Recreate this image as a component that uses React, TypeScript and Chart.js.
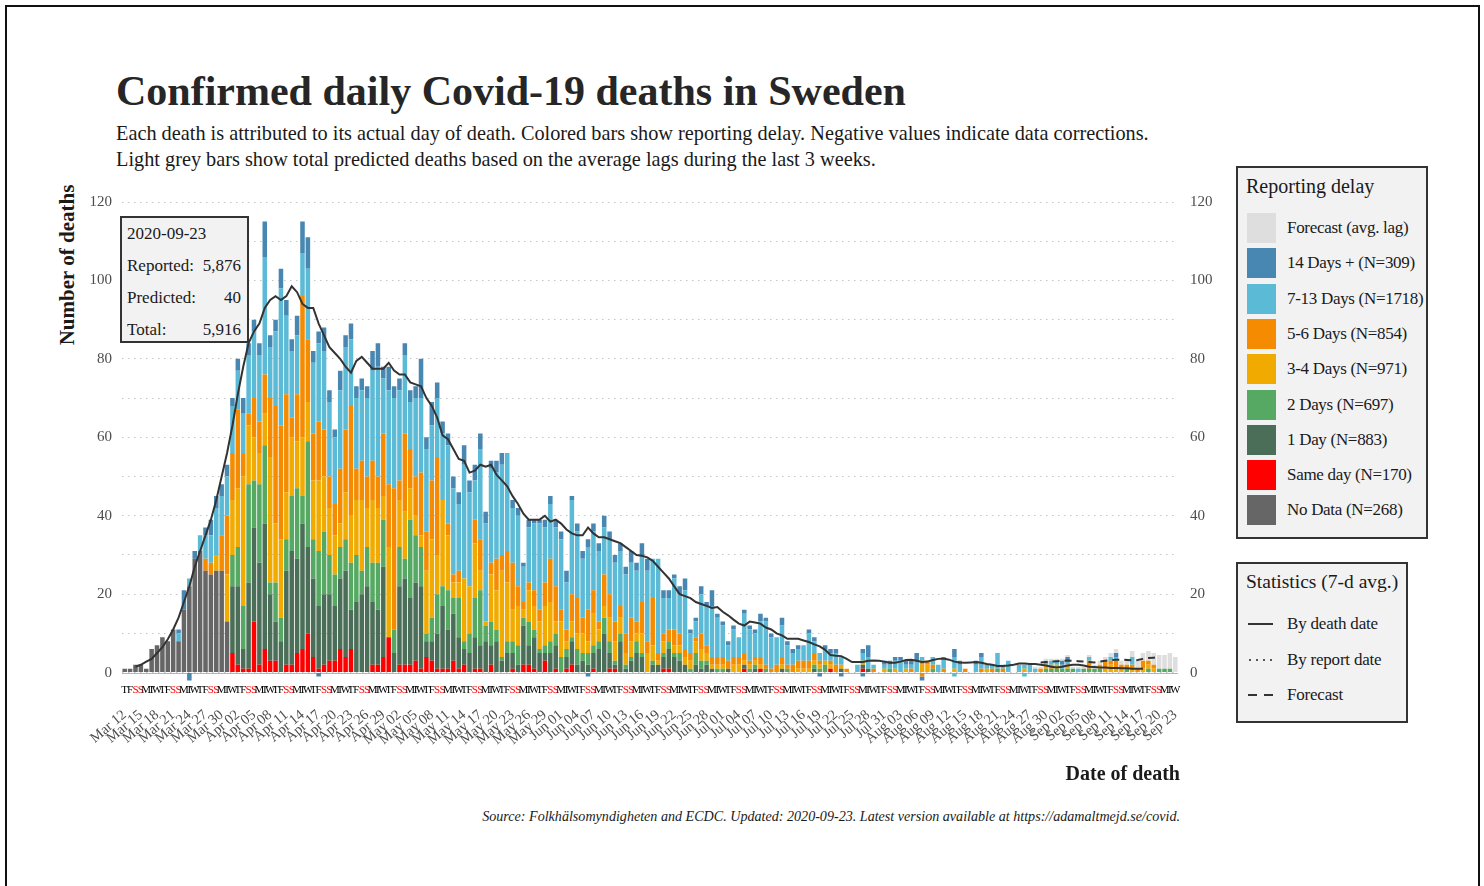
import React, { useEffect, useRef } from 'react';
import { Chart, registerables } from 'chart.js';

Chart.register(...registerables);

const FONT = "'Liberation Serif', 'DejaVu Serif', serif";

// Days from 2020-03-12 to 2020-09-23
const START_YEAR = 2020;
const START_MONTH = 2;
const START_DAY = 12;
const DAY_COUNT = 196;
const MONTH_ABBR = ['Jan', 'Feb', 'Mar', 'Apr', 'May', 'Jun', 'Jul', 'Aug', 'Sep', 'Oct', 'Nov', 'Dec'];
const WEEKDAY_LETTERS = ['S', 'M', 'T', 'W', 'T', 'F', 'S'];
const Y_TICKS = [0, 10, 20, 30, 40, 50, 60, 70, 80, 90, 100, 110, 120];

// Reporting-delay series (deaths per day of death)
const noData = [1, 1, 2, 2, 1, 6, 7, 9, 8, 11, 8, 16, 22, 29, 31, 26, 25, 26, 26, 13];

const sameDay = [
  0, 0, 0, 0, 0, 0, 0, 0, 0, 0,
  0, 0, 0, 0, 0, 0, 0, 0, 0, 0,
  5, 2, 1, 1, 13, 2, 6, 3, 3, 0,
  2, 2, 5, 6, 10, 4, 1, 2, 3, 3,
  6, 4, 6, 0, 0, 0, 2, 2, 4, 9,
  0, 2, 2, 2, 3, 1, 4, 3, 1, 1,
  1, 3, 1, 2, 0, 1, 1, 0, 2, 0,
  0, 0, 1, 0, 2, 2, 1, 0, 3, 0,
  1, 0, 1, 2, 0, 0, 0, 1, 0, 0,
  1, 1, 0, 0, 0, 0, 0, 0, 0, 0,
  1, 1, 0, 0, 0, 0, 0, 0, 0, 0,
  0, 0, 0, 0, 0, 1, 0, 0, 1, 0,
  0, 0, 0, 0, 0, 0, 0, 0, 0, 0,
  0, 1, 0, 0, 0, 0, 0, 1, 0, 0,
];

const oneDay = [
  0, 0, 0, 0, 0, 0, 0, 0, 0, 0,
  0, 0, 0, 0, 0, 0, 0, 0, 0, 0,
  17, 20, 5, 22, 24, 26, 32, 17, 10, 8,
  24, 29, 24, 32, 22, 20, 16, 18, 17, 14,
  18, 22, 10, 18, 20, 22, 16, 14, 23, 0,
  5, 20, 22, 17, 20, 21, 4, 5, 9, 16,
  10, 12, 8, 4, 5, 8, 6, 8, 5, 8,
  3, 5, 4, 2, 10, 5, 8, 5, 2, 5,
  6, 0, 3, 6, 2, 3, 2, 4, 6, 10,
  4, 1, 8, 1, 3, 5, 4, 0, 2, 2,
  3, 5, 4, 3, 2, 0, 2, 1, 2, 1,
  0, 0, 1, 0, 0, 1, 0, 1, 0, 0,
  0, 0, 1, 0, 0, 0, 0, 0, 1, 0,
  0, 0, 0, 1, 0, 0, 0, 1, 1, 0,
];

const twoDays = [
  0, 0, 0, 0, 0, 0, 0, 0, 0, 0,
  0, 0, 0, 0, 0, 0, 0, 0, 0, 0,
  8, 10, 11, 25, 12, 20, 20, 3, 10, 6,
  8, 14, 18, 7, 27, 10, 14, 16, 10, 8,
  8, 8, 12, 12, 6, 10, 10, 12, 12, 0,
  6, 10, 5, 20, 12, 10, 2, 6, 10, 5,
  10, 4, 10, 2, 5, 10, 14, 4, 6, 3,
  1, 3, 3, 5, 2, 6, 2, 1, 2, 3,
  3, 4, 2, 1, 4, 2, 3, 2, 2, 4,
  3, 1, 2, 1, 1, 3, 1, 0, 1, 0,
  1, 2, 1, 2, 0, 1, 3, 2, 1, 0,
  1, 1, 0, 0, 0, 0, 1, 1, 0, 1,
  0, 0, 0, 1, 0, 0, 0, 0, 1, 1,
  2, 0, 0, 0, 0, 0, 0, 0, 0, 0,
  0, 0, 1, 0, 0, 0, 0, 0, 0, 0,
  1, 0, 0, 0, 0, 0, 0, 0, 0, 0,
  0, 0, 1, 0, 0, 0, 0, 0, 0, 0,
  0, 1, 1, 1, 1, 1, 1, 0, 1, 1,
  1, 1, 0, 0, 0, 0, 1, 0, 0, 0,
  1, 0, 1, 1, 1, 0,
];

const threeFourDays = [
  0, 0, 0, 0, 0, 0, 0, 0, 0, 0,
  0, 0, 0, 0, 0, 0, 0, 4, 0, 12,
  14, 15, 33, 15, 11, 8, 8, 32, 15, 20,
  12, 15, 12, 15, 10, 15, 18, 14, 12, 10,
  6, 12, 12, 14, 18, 10, 16, 14, 6, 23,
  0, 12, 12, 8, 5, 3, 16, 20, 10, 22,
  14, 4, 4, 16, 12, 14, 5, 1, 12, 10,
  22, 15, 8, 10, 2, 8, 6, 7, 10, 10,
  3, 9, 2, 4, 4, 5, 3, 8, 3, 3,
  6, 5, 4, 3, 4, 2, 5, 5, 4, 1,
  3, 0, 2, 2, 2, 2, 3, 3, 2, 1,
  1, 1, 0, 2, 2, 1, 1, 1, 1, 0,
  0, 0, 1, 0, 0, 1, 1, 1, 1, 1,
  1, 1, 0, 1, 0, 0, 0, 1, 0, 0,
  0, 1, 0, 1, 0, 1, 0, 0, 2, 2,
  0, 0, 0, 0, 1, 0, 0, 0, 0, 0,
  1, 0, 0, 0, 0, 0, 0, 1, 0, 0,
  0, 1, 0, 1, 0, 1, 0, 0, 0, 0,
  0, 1, 1, 2, 1, 1, 0, 1, 0, 1,
  1, 1, 0, 0, 0, 0,
];

const fiveSixDays = [
  0, 0, 0, 0, 0, 0, 0, 0, 0, 0,
  0, 0, 0, 0, 0, 3, 3, 0, 9, 15,
  12, 20, 6, 3, 10, 8, 10, 15, 30, 29,
  25, 5, 12, 36, 16, 12, 15, 12, 8, 8,
  14, 16, 28, 8, 10, 8, 10, 8, 16, 16,
  36, 5, 20, 10, 10, 16, 10, 15, 25, 0,
  3, 2, 3, 0, 0, 6, 8, 0, 3, 8,
  4, 8, 12, 5, 2, 2, 4, 3, 6, 11,
  9, 3, 3, 7, 9, 4, 8, 6, 2, 8,
  6, 5, 3, 5, 6, 3, 8, 3, 12, 2,
  2, 3, 4, 3, 2, 2, 1, 4, 2, 2,
  2, 2, 2, 2, 2, 2, 1, 1, 2, 1,
  1, 2, 2, 1, 2, 2, 2, 2, 2, 1,
  0, 1, 2, 0, 1, 0, 0, 0, 0, 1,
  0, 0, 0, 0, 0, 0, 1, 0, 1, 1,
  1, 0, 1, 0, 0, 0, 1, 0, 0, 1,
  0, 1, 0, 1, 0, 0, 0, 0, 0, 0,
  1, 0, 1, 0, 0, 0, 0, 0, 0, 2,
  0, 0, 2, 1, 2, 1, 1, 1, 1, 2,
  1, 1, 0, 0, 0, 0,
];

const sevenThirteenDays = [
  0, 0, 0, 0, 0, 0, 0, 0, 0, 0,
  2, 0, 2, 0, 4, 6, 7, 12, 10, 10,
  12, 10, 10, 15, 17, 17, 30, 13, 19, 35,
  20, 17, 15, 11, 18, 18, 20, 20, 19, 17,
  20, 21, 17, 18, 18, 20, 23, 28, 14, 24,
  23, 23, 20, 12, 20, 19, 21, 14, 15, 17,
  20, 22, 17, 29, 24, 10, 23, 25, 24, 22,
  23, 25, 14, 18, 9, 14, 17, 22, 14, 14,
  15, 18, 12, 24, 17, 15, 16, 15, 18, 12,
  14, 15, 14, 15, 14, 13, 12, 18, 10, 24,
  9, 8, 13, 10, 15, 5, 4, 10, 10, 13,
  10, 8, 4, 7, 5, 10, 8, 6, 9, 11,
  8, 7, 8, 5, 3, 3, 4, 7, 3, 2,
  3, 2, 3, 2, 0, 0, 2, 2, 3, 1,
  0, 1, 1, 2, 3, 1, 1, 3, 1, 0,
  2, 2, 3, 0, 3, 2, 0, 0, 2, 3,
  1, 1, 4, 1, 3, 0, 2, 1, 2, 1,
  0, 1, 1, 1, 1, 1, 0, 1, 0, 1,
  0, 0, 0, 1, 1, 0, 0, 2, 0, 0,
  0, 0, 0, 0, 0, 0,
];

const fourteenPlusDays = [
  0, 0, 0, 0, 0, 0, 0, 0, 0, 0,
  1, 5, 0, 2, 0, 2, 4, 3, 3, 3,
  2, 3, 4, 3, 3, 3, 9, 3, 3, 5,
  4, 3, 5, 8, 8, 3, 3, 6, 3, 2,
  5, 3, 4, 3, 3, 3, 5, 6, 3, 6,
  3, 3, 3, 3, 3, 10, 3, 6, 4, 3,
  3, 3, 3, 5, 3, 4, 4, 3, 2, 3,
  3, 0, 2, 2, 1, 2, 1, 1, 2, 2,
  2, 2, 3, 1, 2, 2, 2, 2, 2, 3,
  2, 2, 2, 2, 3, 2, 3, 3, 0, 0,
  2, 2, 1, 2, 3, 1, 1, 2, 1, 4,
  1, 1, 1, 1, 0, 1, 1, 1, 2, 1,
  1, 0, 2, 1, 1, 1, 0, 1, 1, 0,
  1, 1, 1, 0, 0, 0, 0, 1, 3, 0,
  0, 1, 1, 1, 1, 1, 1, 2, 0, 0,
  0, 0, 0, 0, 2, 1, 0, 0, 1, 1,
  0, 0, 0, 0, 0, 0, 0, 0, 0, 0,
  0, 0, 0, 0, 1, 1, 0, 0, 0, 0,
  0, 0, 0, 0, 1,
];

// Forecast (avg. lag), starting at day index 169 (Aug 28)
const FORECAST_START = 169;
const forecastBars = [0.5, 0.5, 0.5, 0.5, 0.5, 0.5, 0.5, 0.5, 0.5, 0.5, 0.5, 1, 1, 1, 1, 1, 1, 1.5, 1.5, 2, 2, 2.5, 3, 3.5, 3.5, 4, 4];

// Negative data corrections
const correctionDays14 = [12, 36, 86, 129, 133, 137, 148];
const corrections14 = [-2, -1, -1, -1, -1, -1, -1];
const correctionDays713 = [154, 167];
const corrections713 = [-1, -1];
const correctionDays56 = [148];
const corrections56 = [-1];

// 7-day average by death date
const deathDateAvg = [
  null, null, 1.5, 2, 2.8, 3.5, 5, 6.5, 8.5, 11,
  14, 18, 22, 27, 31, 35, 39, 44, 50, 56,
  63, 71, 78, 84, 87, 89, 93, 95, 96, 95,
  96, 98.5, 97, 94, 93, 93, 89, 86, 83, 81.5,
  80, 78, 76.5, 79.5, 80.5, 79, 77.5, 77.5, 77.5, 79,
  77, 76, 76, 74, 73.5, 73, 70, 68, 65, 60.5,
  59.5, 57, 54.5, 54, 51, 51.5, 53, 52.5, 53, 50.5,
  49, 47.5, 45, 43, 40.5, 39, 39, 39, 40, 38.5,
  39, 38, 36.5, 35.5, 35, 35, 37, 35.5, 34.5, 34.5,
  34, 33.5, 33, 32, 31, 30, 29.8, 29.4, 28.5, 27,
  25.5, 24, 22, 20, 19.5, 19, 18, 17.5, 17, 16.5,
  16.7, 15.5, 14.6, 13.5, 12.5, 12, 13, 12.8, 12.5, 11.5,
  11, 10, 9.5, 8.6, 8.6, 8.6, 8.2, 7.8, 7.2, 6.7,
  5.8, 4.5, 4.3, 4.2, 3.5, 2.7, 2.7, 2.7, 3, 3.1,
  3, 2.8, 2.5, 2.5, 2.8, 3.2, 3.3, 3, 2.7, 2.8,
  3.2, 3.5, 3.6, 3.3, 2.8, 2.6, 2.5, 2.6, 2.7, 2.5,
  2.2, 2, 1.7, 1.7, 1.8, 2, 2.3, 2.3, 2.2, 2.2,
  2, 1.8, 1.5, 1.3, 1.5, 1.8, 2, 2, 1.8, 1.5,
  1.4, 1.3, 1.3, 1.2, 1.2, 1.1, 1.1, 1, 1, 1,
];

// 7-day average forecast, starting at day index 170
const FORECAST_LINE_START = 170;
const forecastAvg = [2.6, 2.7, 2.8, 2.9, 3, 3.1, 3, 2.9, 2.8, 2.7, 2.6, 2.8, 3, 3.2, 3.3, 3.3, 3.2, 3.1, 3.2, 3.5, 3.7, 3.8, 3.9];

const COLORS = {
  forecast: '#dedede',
  d14: '#4787b1',
  d713: '#5bbad6',
  d56: '#f48b00',
  d34: '#f1ab00',
  d2: '#56a962',
  d1: '#4b6e58',
  same: '#ff0000',
  noData: '#666666',
};

const LEGEND_LABELS = [
  'Forecast (avg. lag)',
  '14 Days + (N=309)',
  '7-13 Days (N=1718)',
  '5-6 Days (N=854)',
  '3-4 Days (N=971)',
  '2 Days (N=697)',
  '1 Day (N=883)',
  'Same day (N=170)',
  'No Data (N=268)',
];
const LEGEND_COLORS = [COLORS.forecast, COLORS.d14, COLORS.d713, COLORS.d56, COLORS.d34, COLORS.d2, COLORS.d1, COLORS.same, COLORS.noData];

const STAT_LABELS = ['By death date', 'By report date', 'Forecast'];

function buildDays() {
  const labels: string[] = [];
  const letters: string[] = [];
  const weekend: boolean[] = [];
  for (let i = 0; i < DAY_COUNT; i++) {
    const d = new Date(START_YEAR, START_MONTH, START_DAY + i);
    const dd = String(d.getDate()).padStart(2, '0');
    labels.push(`${MONTH_ABBR[d.getMonth()]} ${dd}`);
    letters.push(WEEKDAY_LETTERS[d.getDay()]);
    weekend.push(d.getDay() === 0 || d.getDay() === 6);
  }
  return { labels, letters, weekend };
}

function padFrom(start: number, vals: number[]) {
  const out: (number | null)[] = [];
  for (let i = 0; i < start; i++) out.push(null);
  return out.concat(vals);
}

function sparse(days: number[], vals: number[]) {
  const out: (number | null)[] = [];
  for (let i = 0; i < DAY_COUNT; i++) out.push(null);
  days.forEach((d, k) => { out[d] = vals[k]; });
  return out;
}

function LineGlyph({ kind, top }: { kind: number; top: number }) {
  if (kind === 0) {
    return <div style={{ position: 'absolute', left: 1248, top, width: 25, height: 2, background: '#333' }} />;
  }
  if (kind === 1) {
    return (
      <>
        {[0, 1, 2, 3].map((j) => (
          <div key={j} style={{ position: 'absolute', left: 1249 + j * 7, top, width: 2, height: 2, background: '#555' }} />
        ))}
      </>
    );
  }
  return (
    <>
      <div style={{ position: 'absolute', left: 1248, top, width: 9, height: 2, background: '#333' }} />
      <div style={{ position: 'absolute', left: 1264, top, width: 9, height: 2, background: '#333' }} />
    </>
  );
}

export default function App() {
  const canvasRef = useRef<HTMLCanvasElement | null>(null);

  useEffect(() => {
    const canvas = canvasRef.current;
    if (!canvas) return;
    Chart.defaults.font.family = FONT;
    const { labels, letters, weekend } = buildDays();

    const bar = (label: string, data: any[], color: string) => ({
      type: 'bar' as const,
      label,
      data,
      backgroundColor: color,
      borderWidth: 0,
      barPercentage: 0.84,
      categoryPercentage: 1,
      order: 2,
      xAxisID: 'x',
      yAxisID: 'y',
    });

    const datasets: any[] = [
      bar('No Data', noData, COLORS.noData),
      bar('Same day', sameDay, COLORS.same),
      bar('1 Day', oneDay, COLORS.d1),
      bar('2 Days', twoDays, COLORS.d2),
      bar('3-4 Days', threeFourDays, COLORS.d34),
      bar('5-6 Days', fiveSixDays, COLORS.d56),
      bar('7-13 Days', sevenThirteenDays, COLORS.d713),
      bar('14 Days +', fourteenPlusDays, COLORS.d14),
      bar('Forecast', padFrom(FORECAST_START, forecastBars), COLORS.forecast),
      bar('corr 5-6', sparse(correctionDays56, corrections56), COLORS.d56),
      bar('corr 7-13', sparse(correctionDays713, corrections713), COLORS.d713),
      bar('corr 14+', sparse(correctionDays14, corrections14), COLORS.d14),
      {
        type: 'line',
        label: 'By death date',
        data: deathDateAvg,
        borderColor: '#333333',
        borderWidth: 2,
        pointRadius: 0,
        tension: 0,
        stack: 'avg',
        order: 0,
        xAxisID: 'x',
        yAxisID: 'y',
      },
      {
        type: 'line',
        label: 'Forecast avg',
        data: padFrom(FORECAST_LINE_START, forecastAvg),
        borderColor: '#333333',
        borderWidth: 2,
        borderDash: [7, 5],
        pointRadius: 0,
        tension: 0,
        stack: 'fc',
        order: 0,
        xAxisID: 'x',
        yAxisID: 'y',
      },
    ];

    const baseline = {
      id: 'baseline',
      beforeDatasetsDraw(chart: any) {
        const { ctx, chartArea, scales } = chart;
        const y = Math.round(scales.y.getPixelForValue(0)) + 0.5;
        ctx.save();
        ctx.strokeStyle = '#b5b5b5';
        ctx.lineWidth = 1;
        ctx.beginPath();
        ctx.moveTo(chartArea.left, y);
        ctx.lineTo(chartArea.right, y);
        ctx.stroke();
        ctx.restore();
      },
    };

    const yTicks = (s: any) => { s.ticks = Y_TICKS.map((v) => ({ value: v })); };

    const chart = new Chart(canvas, {
      type: 'bar',
      data: { labels, datasets },
      plugins: [baseline],
      options: {
        responsive: false,
        animation: false,
        devicePixelRatio: 1,
        events: [],
        layout: { padding: { top: 11, left: 0, right: 0, bottom: 0 } },
        plugins: { legend: { display: false }, tooltip: { enabled: false }, title: { display: false } },
        scales: {
          x: {
            type: 'category',
            position: 'bottom',
            stacked: true,
            offset: true,
            weight: 0,
            grid: { display: false, drawTicks: false },
            border: { display: false },
            ticks: {
              autoSkip: false,
              maxRotation: 0,
              minRotation: 0,
              padding: 1,
              font: { size: 11, family: FONT },
              color: (c: any) => (weekend[c.index] ? '#ff0000' : '#000000'),
              callback: (_v: any, i: number) => letters[i],
            },
            afterFit: (s: any) => { s.height = 20; },
          },
          x2: {
            type: 'category',
            position: 'bottom',
            offset: true,
            weight: 1,
            grid: { display: false, drawTicks: false },
            border: { display: false },
            ticks: {
              autoSkip: false,
              maxRotation: 40,
              minRotation: 40,
              padding: 4,
              font: { size: 14.5, family: FONT },
              color: '#4d4d4d',
              callback: (_v: any, i: number) => (i % 3 === 0 ? labels[i] : ''),
            },
            afterFit: (s: any) => { s.height = 87.6; },
          },
          y: {
            type: 'linear',
            position: 'left',
            stacked: true,
            min: -2.5,
            max: 120,
            afterBuildTicks: yTicks,
            afterFit: (s: any) => { s.width = 62; },
            grid: { color: '#c4c4c4', lineWidth: 1, drawTicks: false },
            border: { display: false, dash: [1.5, 4.5] },
            ticks: {
              padding: 10,
              font: { size: 15, family: FONT },
              color: '#4d4d4d',
              callback: (v: any) => (Number(v) % 20 === 0 ? String(v) : ''),
            },
          },
          y2: {
            type: 'linear',
            position: 'right',
            min: -2.5,
            max: 120,
            afterBuildTicks: yTicks,
            afterFit: (s: any) => { s.width = 52; },
            grid: { display: false, drawTicks: false },
            border: { display: false },
            ticks: {
              padding: 12,
              font: { size: 15, family: FONT },
              color: '#4d4d4d',
              callback: (v: any) => (Number(v) % 20 === 0 ? String(v) : ''),
            },
          },
        },
      } as any,
    } as any);

    return () => chart.destroy();
  }, []);

  const legendRowTop = (k: number) => 213 + k * 35.3;
  const statRowTop = (k: number) => 611 + k * 35.5;

  return (
    <div style={{ position: 'fixed', left: 0, top: 0, width: 1484, height: 886, background: '#ffffff', overflow: 'hidden', fontFamily: FONT, color: '#1a1a1a' }}>
      <div style={{ position: 'absolute', left: 5, top: 5, width: 1471, height: 900, border: '2px solid #111' }} />

      <div style={{ position: 'absolute', left: 116, top: 70, fontSize: 42, lineHeight: '43px', fontWeight: 700, whiteSpace: 'nowrap', color: '#262626' }}>
        Confirmed daily Covid-19 deaths in Sweden
      </div>
      <div style={{ position: 'absolute', left: 116, top: 123, fontSize: 20.3, lineHeight: '21px', whiteSpace: 'nowrap', color: '#1a1a1a' }}>
        Each death is attributed to its actual day of death. Colored bars show reporting delay. Negative values indicate data corrections.
      </div>
      <div style={{ position: 'absolute', left: 116, top: 149, fontSize: 20.3, lineHeight: '21px', whiteSpace: 'nowrap', color: '#1a1a1a' }}>
        Light grey bars show total predicted deaths based on the average lags during the last 3 weeks.
      </div>

      <div style={{ position: 'absolute', left: 67, top: 265, transform: 'translate(-50%, -50%) rotate(-90deg)', fontSize: 21, fontWeight: 700, whiteSpace: 'nowrap', color: '#1a1a1a' }}>
        Number of deaths
      </div>

      <canvas ref={canvasRef} width={1170} height={609} style={{ position: 'absolute', left: 60, top: 181, width: 1170, height: 609 }} />

      <div style={{ position: 'absolute', left: 120, top: 216, width: 125, height: 123, background: '#f2f2f2', border: '2px solid #333', fontSize: 17 }}>
        <div style={{ position: 'absolute', left: 5, top: 6, whiteSpace: 'nowrap' }}>2020-09-23</div>
        <div style={{ position: 'absolute', left: 5, top: 38, whiteSpace: 'nowrap' }}>Reported:</div>
        <div style={{ position: 'absolute', right: 6, top: 38, whiteSpace: 'nowrap' }}>5,876</div>
        <div style={{ position: 'absolute', left: 5, top: 70, whiteSpace: 'nowrap' }}>Predicted:</div>
        <div style={{ position: 'absolute', right: 6, top: 70, whiteSpace: 'nowrap' }}>40</div>
        <div style={{ position: 'absolute', left: 5, top: 102, whiteSpace: 'nowrap' }}>Total:</div>
        <div style={{ position: 'absolute', right: 6, top: 102, whiteSpace: 'nowrap' }}>5,916</div>
      </div>

      <div style={{ position: 'absolute', right: 304, top: 762, fontSize: 20, fontWeight: 700, whiteSpace: 'nowrap', color: '#1a1a1a' }}>
        Date of death
      </div>
      <div style={{ position: 'absolute', right: 304, top: 808, fontSize: 14.1, fontStyle: 'italic', whiteSpace: 'nowrap', color: '#1a1a1a' }}>
        Source: Folkhälsomyndigheten and ECDC. Updated: 2020-09-23. Latest version available at https://adamaltmejd.se/covid.
      </div>

      <div style={{ position: 'absolute', left: 1236, top: 166, width: 188, height: 369, background: '#f2f2f2', border: '2px solid #333' }} />
      <div style={{ position: 'absolute', left: 1246, top: 175, fontSize: 20, whiteSpace: 'nowrap' }}>Reporting delay</div>
      {LEGEND_LABELS.map((lab, k) => (
        <React.Fragment key={lab}>
          <div style={{ position: 'absolute', left: 1247, top: legendRowTop(k), width: 29, height: 30, background: LEGEND_COLORS[k] }} />
          <div style={{ position: 'absolute', left: 1287, top: legendRowTop(k) + 5, fontSize: 17, letterSpacing: '-0.3px', lineHeight: '20px', whiteSpace: 'nowrap' }}>{lab}</div>
        </React.Fragment>
      ))}

      <div style={{ position: 'absolute', left: 1236, top: 562, width: 168, height: 157, background: '#f2f2f2', border: '2px solid #333' }} />
      <div style={{ position: 'absolute', left: 1246, top: 571, fontSize: 19.5, whiteSpace: 'nowrap' }}>Statistics (7-d avg.)</div>
      {STAT_LABELS.map((lab, k) => (
        <React.Fragment key={lab}>
          <LineGlyph kind={k} top={statRowTop(k) + 12} />
          <div style={{ position: 'absolute', left: 1287, top: statRowTop(k) + 3, fontSize: 17, letterSpacing: '-0.2px', lineHeight: '20px', whiteSpace: 'nowrap' }}>{lab}</div>
        </React.Fragment>
      ))}
    </div>
  );
}
